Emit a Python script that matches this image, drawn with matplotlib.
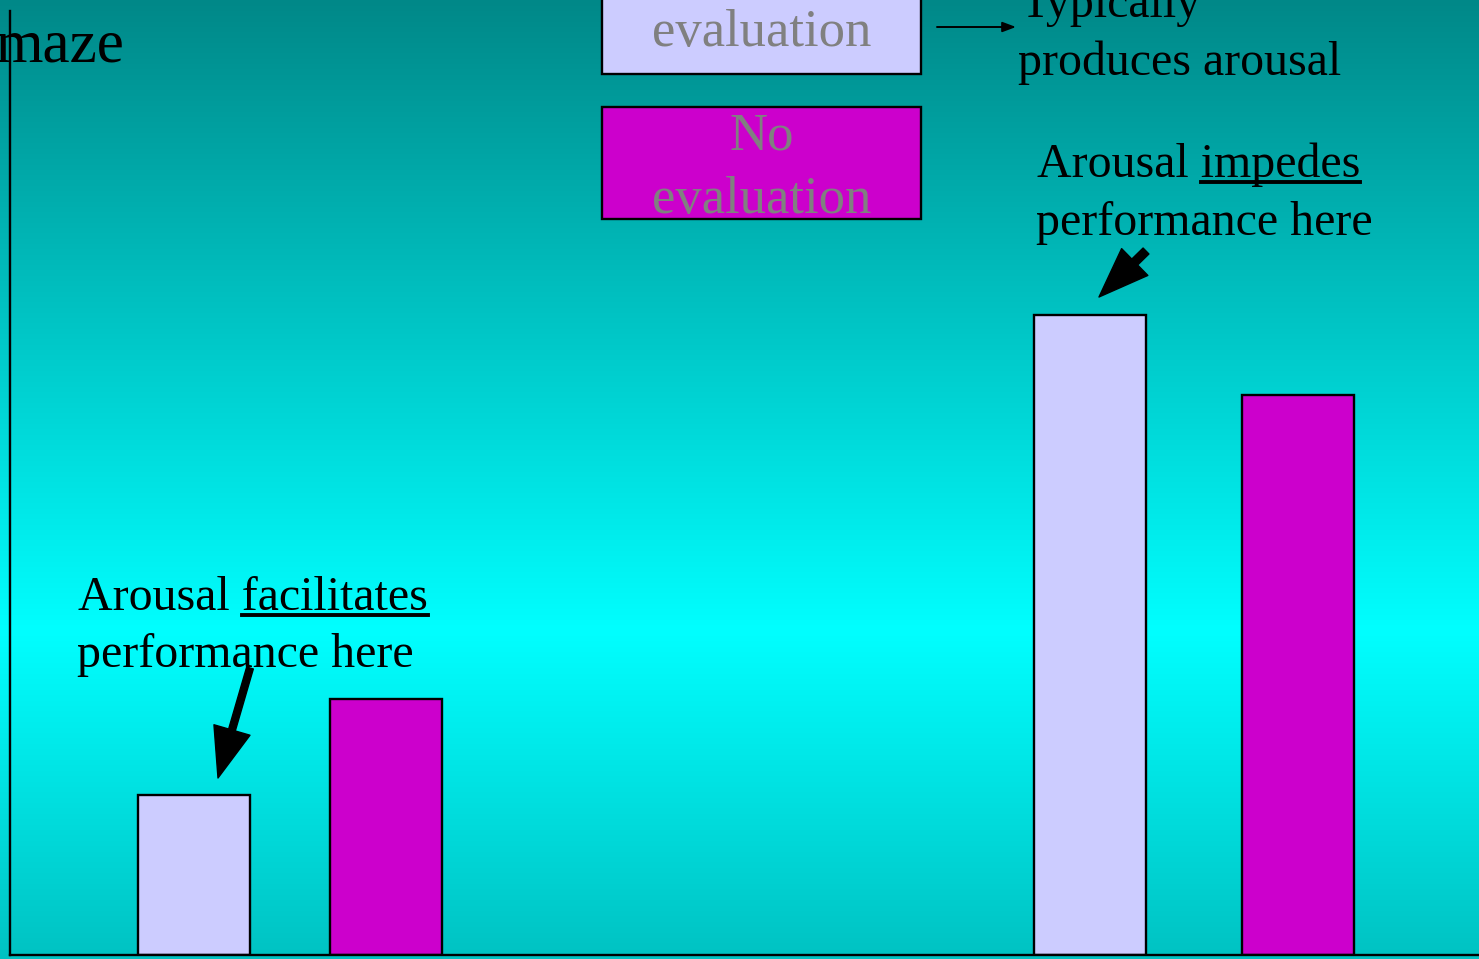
import numpy as np
import matplotlib.pyplot as plt
from matplotlib.patches import Rectangle, FancyArrowPatch, ArrowStyle
from matplotlib.lines import Line2D

W, H = 1479, 959

# time spent in the maze, two task types, with / without an audience
tasks = ['simple maze', 'complex maze']
evaluation = [1.69, 6.78]
no_evaluation = [2.71, 5.93]

eval_color = '#ccccff'
no_eval_color = '#cc00cc'
label_gray = '#808080'
serif = ['Liberation Serif', 'DejaVu Serif']
text_size = 34.5


def fx(x):
    return x / W


def fy(y):
    return 1 - y / H


fig = plt.figure(figsize=(W / 100, H / 100), dpi=100)

# slide background: teal at the top, bright cyan lower down, a bit darker at the foot
rows = np.arange(H)
level = np.where(rows <= 630,
                 136 + (255 - 136) * rows / 630,
                 255 - (255 - 194) * (rows - 630) / (H - 630)) / 255
grad = np.zeros((H, 1, 3))
grad[:, 0, 1] = level
grad[:, 0, 2] = level
bg = fig.add_axes([0, 0, 1, 1], zorder=0)
bg.imshow(grad, aspect='auto', extent=[0, 1, 0, 1], interpolation='bilinear')
bg.axis('off')

ax = fig.add_axes([fx(10), 1 - 954.5 / H, 1 - fx(10), (954.5 - 11) / H], zorder=1)
ax.patch.set_visible(False)
group_pos = np.arange(len(tasks), dtype=float)
pair_gap = np.array([0.212, 0.230])
bar_w = 0.124
ax.bar(group_pos - pair_gap / 2, evaluation, bar_w, color=eval_color,
       edgecolor='black', linewidth=1.7)
ax.bar(group_pos + pair_gap / 2, no_evaluation, bar_w, color=no_eval_color,
       edgecolor='black', linewidth=1.7)
ax.set_xlim(-280 / 904, 1189 / 904)
ax.set_ylim(0, 10)
ax.set_xticks([])
ax.set_yticks([])
ax.spines[['top', 'right']].set_visible(False)
for side in ['left', 'bottom']:
    ax.spines[side].set_linewidth(1.7)

fig.text(fx(125), fy(62), 'maze', fontsize=44, family=serif, ha='right', va='baseline')

# legend boxes with the labels written inside
fig.add_artist(Rectangle((fx(602), fy(74)), fx(921 - 602), 120 / H, transform=fig.transFigure,
                         facecolor=eval_color, edgecolor='black', lw=1.7))
fig.add_artist(Rectangle((fx(602), fy(219)), fx(921 - 602), (219 - 107) / H, transform=fig.transFigure,
                         facecolor=no_eval_color, edgecolor='black', lw=1.7))
fig.text(fx(762), fy(46), 'evaluation', fontsize=38, family=serif, color=label_gray,
         ha='center', va='baseline')
fig.text(fx(762), fy(150), 'No', fontsize=38, family=serif, color=label_gray,
         ha='center', va='baseline')
fig.text(fx(762), fy(213), 'evaluation', fontsize=38, family=serif, color=label_gray,
         ha='center', va='baseline')

fig.add_artist(FancyArrowPatch((fx(937), fy(27)), (fx(1016), fy(27)), transform=fig.transFigure,
                               arrowstyle=ArrowStyle('-|>', head_length=8, head_width=3),
                               mutation_scale=1, color='black', lw=1.4, shrinkA=0, shrinkB=0))
fig.text(fx(1020), fy(17), 'Typically', fontsize=text_size, family=serif, va='baseline')
fig.text(fx(1018), fy(75), 'produces arousal', fontsize=text_size, family=serif, va='baseline')

renderer = fig.canvas.get_renderer()


def underlined_line(x, y, before, word):
    full = fig.text(fx(x), fy(y), before + word, fontsize=text_size, family=serif, va='baseline')
    w_full = full.get_window_extent(renderer).width
    probe = fig.text(0, 0, word, fontsize=text_size, family=serif)
    w_word = probe.get_window_extent(renderer).width
    probe.remove()
    x1 = x + w_full
    fig.add_artist(Line2D([fx(x1 - w_word), fx(x1)], [fy(y + 5)] * 2, color='black', lw=2.8))


def big_arrow(tail, head, tail_w):
    fig.add_artist(FancyArrowPatch((fx(tail[0]), fy(tail[1])), (fx(head[0]), fy(head[1])),
                                   transform=fig.transFigure,
                                   arrowstyle=ArrowStyle.Simple(head_length=36, head_width=27,
                                                                tail_width=tail_w),
                                   mutation_scale=1, color='black', shrinkA=0, shrinkB=0))


underlined_line(78, 610, 'Arousal ', 'facilitates')
fig.text(fx(77), fy(667), 'performance here', fontsize=text_size, family=serif, va='baseline')
big_arrow((250, 668), (218, 778), 5)

underlined_line(1037, 177, 'Arousal ', 'impedes')
fig.text(fx(1036), fy(235), 'performance here', fontsize=text_size, family=serif, va='baseline')
big_arrow((1146, 251), (1099, 297), 6)

fig.savefig('out.png', dpi=100)
